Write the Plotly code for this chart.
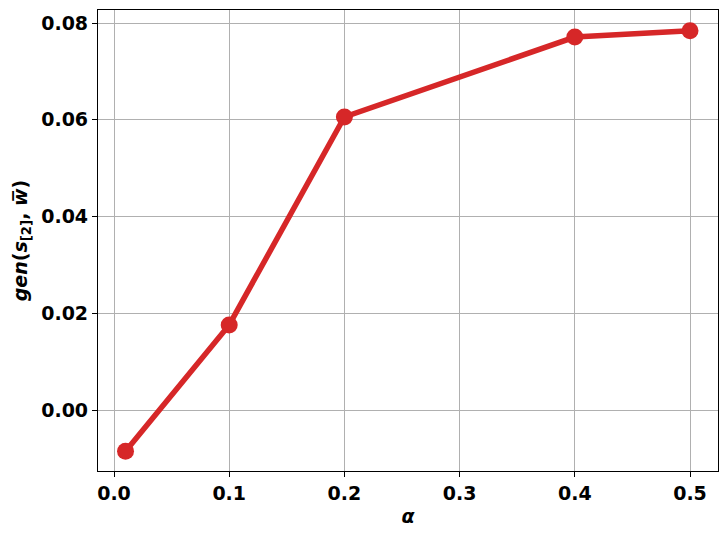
import plotly.graph_objects as go

alpha = [0.01, 0.1, 0.2, 0.4, 0.5]
gen = [-0.0085, 0.0176, 0.0606, 0.0771, 0.0784]

x_ticks = [0.0, 0.1, 0.2, 0.3, 0.4, 0.5]
x_labels = ["0.0", "0.1", "0.2", "0.3", "0.4", "0.5"]
y_ticks = [0.0, 0.02, 0.04, 0.06, 0.08]
y_labels = ["0.00", "0.02", "0.04", "0.06", "0.08"]

fig = go.Figure(go.Scatter(
    x=alpha, y=gen, mode="lines+markers",
    line=dict(color="#d62728", width=5.5),
    marker=dict(color="#d62728", size=17),
))

axis_style = dict(
    showline=True, linecolor="black", linewidth=1.2, mirror=True,
    showgrid=True, gridcolor="#b0b0b0", gridwidth=1,
    ticks="outside", ticklen=5, tickcolor="black",
    zeroline=False,
    tickfont=dict(family="DejaVu Sans", size=19, color="black", weight="bold"),
)

fig.update_xaxes(
    range=[-0.0139, 0.5243], tickvals=x_ticks, ticktext=x_labels,
    title=dict(text="<b><i>α</i></b>", font=dict(family="DejaVu Sans", size=19, color="black"), standoff=6),
    **axis_style,
)
fig.update_yaxes(
    range=[-0.0126, 0.0827], tickvals=y_ticks, ticktext=y_labels,
    title=dict(text="<b><i>gen</i>(<i>s</i><sub>[2]</sub>, <i>w\u0305</i>)</b>",
               font=dict(family="DejaVu Sans", size=19, color="black"), standoff=8),
    **axis_style,
)

# the page puts the figure 8px in from the top-left corner
fig.update_layout(
    width=728, height=535,
    margin=dict(l=90, r=18, t=2, b=72),
    plot_bgcolor="white", paper_bgcolor="white",
    showlegend=False,
)

fig.write_html("out.html")
